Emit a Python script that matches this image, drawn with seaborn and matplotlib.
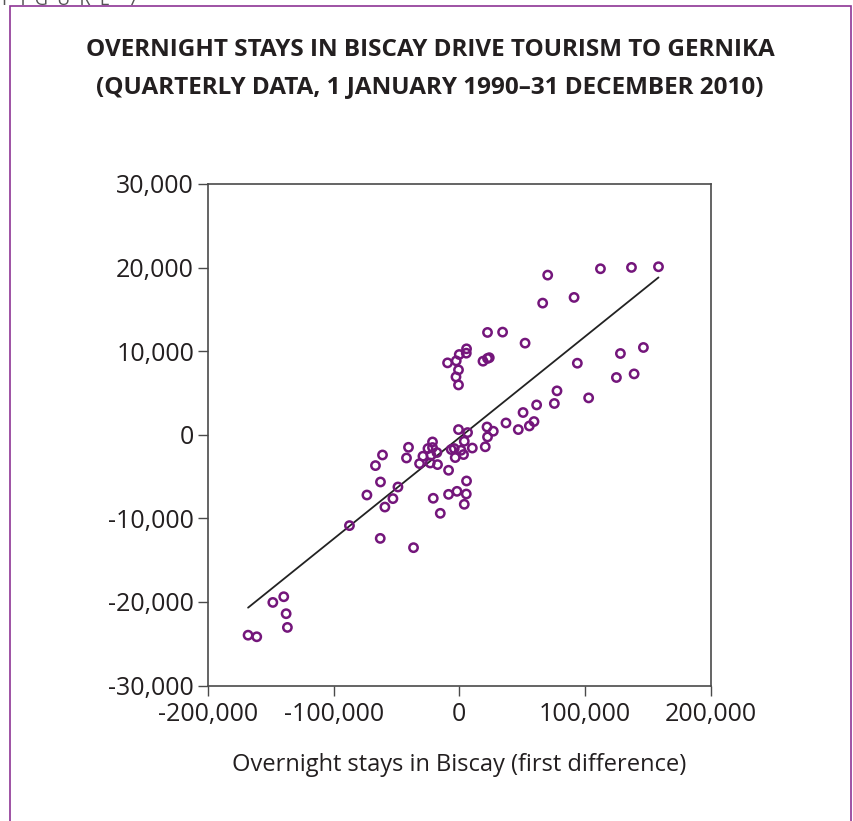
import matplotlib
matplotlib.use("Agg")
import matplotlib.pyplot as plt
from matplotlib.patches import Rectangle
from matplotlib.ticker import FuncFormatter
import seaborn as sns
import pandas as pd

# Quarterly first differences, 1990-2010 (Biscay vs. Gernika), in overnight stays
biscay = [
    70.4, 112.4, 137.1, 158.6, 66.4, 91.4, 22.5, 34.5, 52.4,
    -9.3, -2.4, 0.0, 5.8, 5.6, -0.6, -2.6, -0.6, 18.9, 22.5, 23.9,
    94.0, 128.3, 146.6, 125.1, 139.2, 77.8, 103.0, 61.6, 75.7, 50.8,
    37.2, 59.5, 55.8, 47.0, 22.1, 27.1, 22.5, -0.6, 6.6, 4.0,
    20.7, 10.4, -21.3, -40.4, -24.9, -21.3, -17.8, -22.5, -28.9, -31.6,
    -23.1, -17.3, -6.4, -4.0, 1.4, -3.2, 3.4, -8.5, -61.1, -42.0,
    -66.7, -62.7, -48.8, -73.5, -52.8, -59.2, -20.7, -8.5, -1.8, 5.8,
    5.6, 4.0, -15.1, -87.4, -62.9, -36.4, -148.4, -139.7, -137.8, -136.8,
    -168.1, -161.2,
]
gernika = [
    19.10, 19.86, 20.02, 20.10, 15.75, 16.43, 12.24, 12.28, 10.96,
    8.60, 8.84, 9.60, 10.28, 9.76, 7.76, 6.92, 5.96, 8.80, 9.13, 9.22,
    8.56, 9.72, 10.44, 6.85, 7.28, 5.25, 4.41, 3.57, 3.74, 2.66,
    1.41, 1.58, 1.05, 0.62, 0.93, 0.42, -0.26, 0.62, 0.26, -0.78,
    -1.44, -1.59, -0.86, -1.50, -1.65, -1.53, -2.13, -2.46, -2.57, -3.45,
    -3.38, -3.57, -1.77, -1.65, -1.86, -2.73, -2.37, -4.25, -2.42, -2.78,
    -3.69, -5.65, -6.25, -7.21, -7.64, -8.65, -7.60, -7.13, -6.77, -5.53,
    -7.09, -8.32, -9.40, -10.87, -12.40, -13.51, -20.06, -19.38, -21.41, -23.05,
    -23.98, -24.17,
]
x_ticks = [-200000, -100000, 0, 100000, 200000]
y_ticks = [-30000, -20000, -10000, 0, 10000, 20000, 30000]

df = pd.DataFrame({
    "biscay": [v * 1000 for v in biscay],
    "gernika": [v * 1000 for v in gernika],
})

sns.set_style("ticks")
plt.rcParams["font.family"] = ["Open Sans", "DejaVu Sans"]

TEXT = "#231f20"
PURPLE = "#74167b"
FRAME = "#8e3595"
SPINE = "#4a4a4a"

fig = plt.figure(figsize=(8.54, 8.21), dpi=100)
ax = fig.add_axes([208 / 854, 1 - 685.5 / 821, (710.5 - 208) / 854, (685.5 - 184) / 821])

sns.regplot(
    data=df, x="biscay", y="gernika", ax=ax, ci=None, truncate=True,
    scatter_kws=dict(s=36, facecolors="none", edgecolors=PURPLE,
                     linewidths=1.8, alpha=1, zorder=3),
    line_kws=dict(color="#222222", lw=1.3, zorder=2),
)

ax.set_xlim(-200000, 200000)
ax.set_ylim(-30000, 30000)
ax.set_xticks(x_ticks)
ax.set_yticks(y_ticks)
fmt = FuncFormatter(lambda v, p: f"{int(round(v)):,}")
ax.xaxis.set_major_formatter(fmt)
ax.yaxis.set_major_formatter(fmt)
ax.tick_params(axis="both", direction="out", length=7, width=1.0,
               color=SPINE, labelsize=18, labelcolor=TEXT)
ax.tick_params(axis="x", pad=5)
ax.tick_params(axis="y", pad=3)
for side in ["left", "right", "top", "bottom"]:
    ax.spines[side].set_visible(True)
    ax.spines[side].set_color(SPINE)
    ax.spines[side].set_linewidth(1.2)
ax.set_xlabel("")
ax.set_ylabel("")

fig.text(459 / 854, 1 - 765 / 821, "Overnight stays in Biscay (first difference)",
         ha="center", va="center", fontsize=17, color=TEXT)

fig.text(430 / 854, 1 - 50 / 821,
         "OVERNIGHT STAYS IN BISCAY DRIVE TOURISM TO GERNIKA",
         ha="center", va="center", fontsize=17.5, fontweight="bold", color=TEXT)
fig.text(430 / 854, 1 - 87 / 821,
         "(QUARTERLY DATA, 1 JANUARY 1990\u201331 DECEMBER 2010)",
         ha="center", va="center", fontsize=17.5, fontweight="bold", color=TEXT)

# figure label running off the top edge, and the panel frame
fig.text(2 / 854, 1 - 5 / 821, "F  I  G  U  R  E    7", ha="left",
         va="baseline", fontsize=13, color="#555555")
fig.add_artist(Rectangle((10 / 854, -0.05), (851 - 10) / 854, 1.05 - 6 / 821,
                         transform=fig.transFigure, fill=False,
                         edgecolor=FRAME, lw=1.2, clip_on=False))

fig.savefig("out.png", dpi=100)
